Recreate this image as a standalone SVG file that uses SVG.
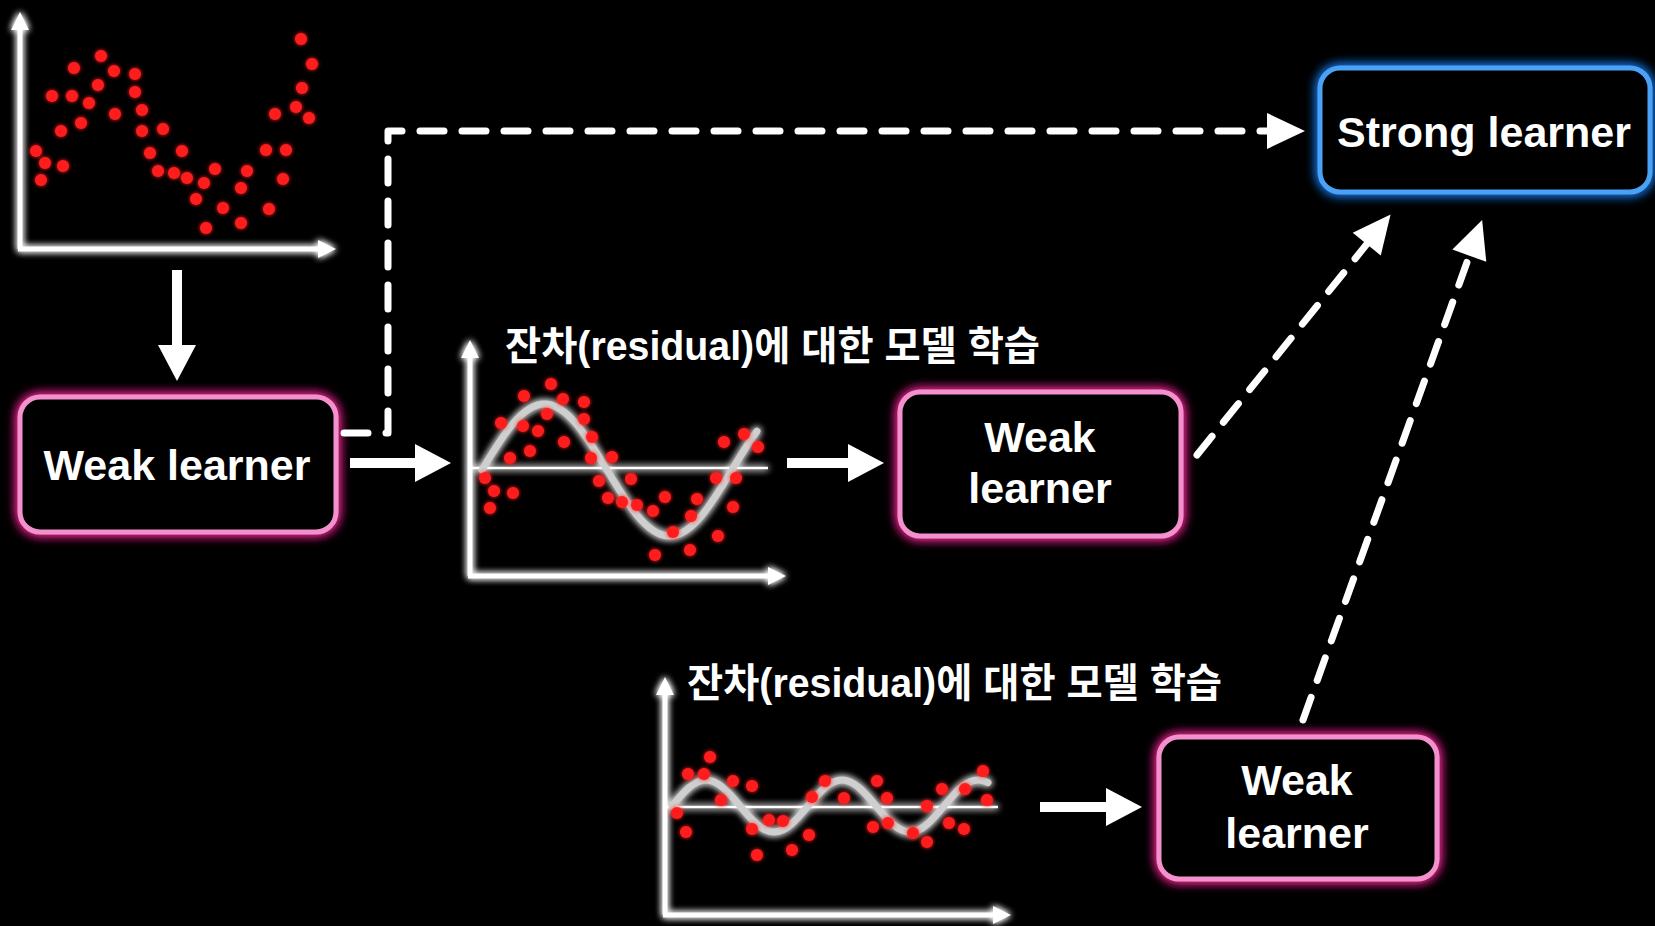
<svg xmlns="http://www.w3.org/2000/svg" width="1655" height="926" viewBox="0 0 1655 926">
<defs>
<style>
.bg{fill:#000}
.box{fill:#000;stroke-width:5}
.pink{stroke:#f590cf}
.blue{stroke:#4aa2f5}
.lbl{font-family:"Liberation Sans",Arial,sans-serif;font-weight:bold;fill:#fff;text-anchor:middle}
.ttl{font-family:"Liberation Sans","Noto Sans CJK KR",sans-serif;font-weight:bold;fill:#fff;font-size:40px}
.axis{fill:none;stroke:#fff;stroke-width:5}
.zero{fill:none;stroke:#fff;stroke-width:2.5}
.curve{fill:none;stroke:#cfcfcf;stroke-width:7;stroke-linecap:round}
.dot{fill:#ff1e1e}
.dash{fill:none;stroke:#fff;stroke-width:7;stroke-dasharray:24 18;stroke-linecap:round;stroke-linejoin:round}
.solid{fill:none;stroke:#fff;stroke-width:10}
</style>
<filter id="glowPink" x="-20%" y="-30%" width="140%" height="160%">
<feGaussianBlur in="SourceAlpha" stdDeviation="6" result="b"/>
<feFlood flood-color="#ff2a9a" flood-opacity="0.9"/>
<feComposite in2="b" operator="in" result="g"/>
<feMerge><feMergeNode in="g"/><feMergeNode in="g"/><feMergeNode in="SourceGraphic"/></feMerge>
</filter>
<filter id="glowBlue" x="-20%" y="-30%" width="140%" height="160%">
<feGaussianBlur in="SourceAlpha" stdDeviation="6" result="b"/>
<feFlood flood-color="#1f7cf0" flood-opacity="0.9"/>
<feComposite in2="b" operator="in" result="g"/>
<feMerge><feMergeNode in="g"/><feMergeNode in="g"/><feMergeNode in="SourceGraphic"/></feMerge>
</filter>
<filter id="glowWhite" x="-10%" y="-10%" width="120%" height="120%">
<feGaussianBlur in="SourceGraphic" stdDeviation="3.5" result="b"/>
<feMerge><feMergeNode in="b"/><feMergeNode in="b"/><feMergeNode in="SourceGraphic"/></feMerge>
</filter>
<filter id="glowDot" x="-10%" y="-10%" width="120%" height="120%">
<feGaussianBlur in="SourceGraphic" stdDeviation="2" result="b"/>
<feMerge><feMergeNode in="b"/><feMergeNode in="SourceGraphic"/></feMerge>
</filter>
<marker id="axHead" markerUnits="userSpaceOnUse" markerWidth="20" markerHeight="20" viewBox="0 -10 20 20" refX="2" refY="0" orient="auto" overflow="visible">
<path d="M0,-9 L18,0 L0,9 z" fill="#fff"/>
</marker>
<marker id="bigHead" markerUnits="userSpaceOnUse" markerWidth="40" markerHeight="44" viewBox="0 -22 40 44" refX="1" refY="0" orient="auto" overflow="visible">
<path d="M0,-19 L36,0 L0,19 z" fill="#fff"/>
</marker>
<marker id="dashHead" markerUnits="userSpaceOnUse" markerWidth="42" markerHeight="44" viewBox="0 -22 42 44" refX="2" refY="0" orient="auto" overflow="visible">
<path d="M0,-18 L38,0 L0,18 z" fill="#fff"/>
</marker>
</defs>
<rect class="bg" x="0" y="0" width="1655" height="926"/>

<g id="chart1">
<g filter="url(#glowWhite)">
<path class="axis" d="M20,249 L20,28" marker-end="url(#axHead)"/>
<path class="axis" d="M18,249 L320,249" marker-end="url(#axHead)"/>
</g>
<g filter="url(#glowDot)">
<circle class="dot" cx="36" cy="151" r="6"/><circle class="dot" cx="45" cy="163" r="6"/><circle class="dot" cx="41" cy="180" r="6"/>
<circle class="dot" cx="63" cy="166" r="6"/><circle class="dot" cx="61" cy="131" r="6"/><circle class="dot" cx="52" cy="96" r="6"/>
<circle class="dot" cx="74" cy="68" r="6"/><circle class="dot" cx="72" cy="96" r="6"/><circle class="dot" cx="81" cy="123" r="6"/>
<circle class="dot" cx="89" cy="103" r="6"/><circle class="dot" cx="98" cy="85" r="6"/><circle class="dot" cx="101" cy="56" r="6"/>
<circle class="dot" cx="114" cy="71" r="6"/><circle class="dot" cx="115" cy="114" r="6"/><circle class="dot" cx="135" cy="74" r="6"/>
<circle class="dot" cx="135" cy="92" r="6"/><circle class="dot" cx="142" cy="110" r="6"/><circle class="dot" cx="142" cy="131" r="6"/>
<circle class="dot" cx="163" cy="129" r="6"/><circle class="dot" cx="150" cy="153" r="6"/><circle class="dot" cx="182" cy="151" r="6"/>
<circle class="dot" cx="158" cy="171" r="6"/><circle class="dot" cx="174" cy="173" r="6"/><circle class="dot" cx="187" cy="178" r="6"/>
<circle class="dot" cx="204" cy="183" r="6"/><circle class="dot" cx="215" cy="169" r="6"/><circle class="dot" cx="196" cy="199" r="6"/>
<circle class="dot" cx="223" cy="208" r="6"/><circle class="dot" cx="206" cy="228" r="6"/><circle class="dot" cx="241" cy="223" r="6"/>
<circle class="dot" cx="241" cy="188" r="6"/><circle class="dot" cx="247" cy="171" r="6"/><circle class="dot" cx="266" cy="150" r="6"/>
<circle class="dot" cx="286" cy="150" r="6"/><circle class="dot" cx="283" cy="179" r="6"/><circle class="dot" cx="269" cy="209" r="6"/>
<circle class="dot" cx="275" cy="114" r="6"/><circle class="dot" cx="296" cy="107" r="6"/><circle class="dot" cx="309" cy="118" r="6"/>
<circle class="dot" cx="302" cy="88" r="6"/><circle class="dot" cx="312" cy="64" r="6"/><circle class="dot" cx="301" cy="39" r="6"/>
</g>
</g>

<g id="weak1">
<rect class="box pink" x="20" y="397" width="316" height="135" rx="20" filter="url(#glowPink)"/>
<text class="lbl" x="177" y="480" font-size="43">Weak learner</text>
</g>

<g id="chart2">
<text class="ttl" x="505" y="360" textLength="535" lengthAdjust="spacingAndGlyphs">잔차(residual)에 대한 모델 학습</text>
<g filter="url(#glowWhite)">
<path class="axis" d="M470,576 L470,356" marker-end="url(#axHead)"/>
<path class="axis" d="M468,576 L770,576" marker-end="url(#axHead)"/>
<path class="zero" d="M470,468 L768,468"/>
<path class="curve" d="M482,470 C502.38,436.19 521.88,404 544.5,404 C567.12,404 586.62,436.19 607,470 C627.38,503.81 646.88,536 669.5,536 C692.12,536 711.62,503.81 732,470 C740.33,456.2 748.67,442.4 757,431.2"/>
</g>
<g filter="url(#glowDot)">
<circle class="dot" cx="485" cy="478" r="6"/><circle class="dot" cx="494" cy="491" r="6"/><circle class="dot" cx="490" cy="508" r="6"/>
<circle class="dot" cx="513" cy="493" r="6"/><circle class="dot" cx="510" cy="458" r="6"/><circle class="dot" cx="501" cy="423" r="6"/>
<circle class="dot" cx="524" cy="396" r="6"/><circle class="dot" cx="523" cy="426" r="6"/><circle class="dot" cx="538" cy="431" r="6"/>
<circle class="dot" cx="530" cy="451" r="6"/><circle class="dot" cx="551" cy="384" r="6"/><circle class="dot" cx="547" cy="414" r="6"/>
<circle class="dot" cx="563" cy="399" r="6"/><circle class="dot" cx="564" cy="442" r="6"/><circle class="dot" cx="584" cy="402" r="6"/>
<circle class="dot" cx="584" cy="419" r="6"/><circle class="dot" cx="592" cy="437" r="6"/><circle class="dot" cx="591" cy="458" r="6"/>
<circle class="dot" cx="612" cy="457" r="6"/><circle class="dot" cx="599" cy="481" r="6"/><circle class="dot" cx="631" cy="479" r="6"/>
<circle class="dot" cx="608" cy="498" r="6"/><circle class="dot" cx="622" cy="502" r="6"/><circle class="dot" cx="637" cy="505" r="6"/>
<circle class="dot" cx="653" cy="511" r="6"/><circle class="dot" cx="665" cy="497" r="6"/><circle class="dot" cx="673" cy="532" r="6"/>
<circle class="dot" cx="655" cy="555" r="6"/><circle class="dot" cx="690" cy="550" r="6"/><circle class="dot" cx="691" cy="516" r="6"/>
<circle class="dot" cx="697" cy="499" r="6"/><circle class="dot" cx="716" cy="478" r="6"/><circle class="dot" cx="736" cy="478" r="6"/>
<circle class="dot" cx="733" cy="507" r="6"/><circle class="dot" cx="718" cy="536" r="6"/><circle class="dot" cx="724" cy="442" r="6"/>
<circle class="dot" cx="744" cy="434" r="6"/><circle class="dot" cx="758" cy="447" r="6"/>
</g>
</g>

<g id="weak2">
<rect class="box pink" x="900" y="392" width="281" height="144" rx="20" filter="url(#glowPink)"/>
<text class="lbl" x="1040" y="452" font-size="43">Weak</text>
<text class="lbl" x="1040" y="503" font-size="43">learner</text>
</g>

<g id="chart3">
<text class="ttl" x="687" y="697" textLength="535" lengthAdjust="spacingAndGlyphs">잔차(residual)에 대한 모델 학습</text>
<g filter="url(#glowWhite)">
<path class="axis" d="M665,915 L665,693" marker-end="url(#axHead)"/>
<path class="axis" d="M663,915 L995,915" marker-end="url(#axHead)"/>
<path class="zero" d="M665,807 L998,807"/>
<path class="curve" d="M672,806 C683.09,792.68 693.7,780 706,780 C718.3,780 728.91,792.68 740,806 C751.09,819.32 761.7,832 774,832 C786.3,832 796.91,819.32 808,806 C819.09,792.68 829.7,780 842,780 C854.3,780 864.91,792.68 876,806 C887.09,819.32 897.7,832 910,832 C922.3,832 932.91,819.32 944,806 C955.09,792.68 965.7,780 978,780 C981.33,780 984.67,780.9 988,782.7"/>
</g>
<g filter="url(#glowDot)">
<circle class="dot" cx="677" cy="813" r="6"/><circle class="dot" cx="686" cy="832" r="6"/><circle class="dot" cx="688" cy="774" r="6"/>
<circle class="dot" cx="704" cy="774" r="6"/><circle class="dot" cx="710" cy="757" r="6"/><circle class="dot" cx="721" cy="800" r="6"/>
<circle class="dot" cx="733" cy="781" r="6"/><circle class="dot" cx="752" cy="786" r="6"/><circle class="dot" cx="752" cy="829" r="6"/>
<circle class="dot" cx="757" cy="855" r="6"/><circle class="dot" cx="769" cy="820" r="6"/><circle class="dot" cx="783" cy="821" r="6"/>
<circle class="dot" cx="792" cy="850" r="6"/><circle class="dot" cx="809" cy="835" r="6"/><circle class="dot" cx="812" cy="797" r="6"/>
<circle class="dot" cx="825" cy="781" r="6"/><circle class="dot" cx="844" cy="798" r="6"/><circle class="dot" cx="877" cy="781" r="6"/>
<circle class="dot" cx="887" cy="798" r="6"/><circle class="dot" cx="873" cy="827" r="6"/><circle class="dot" cx="888" cy="823" r="6"/>
<circle class="dot" cx="913" cy="833" r="6"/><circle class="dot" cx="927" cy="806" r="6"/><circle class="dot" cx="927" cy="842" r="6"/>
<circle class="dot" cx="942" cy="789" r="6"/><circle class="dot" cx="949" cy="823" r="6"/><circle class="dot" cx="964" cy="829" r="6"/>
<circle class="dot" cx="965" cy="789" r="6"/><circle class="dot" cx="983" cy="771" r="6"/><circle class="dot" cx="987" cy="800" r="6"/>
</g>
</g>

<g id="weak3">
<rect class="box pink" x="1159" y="737" width="278" height="142" rx="20" filter="url(#glowPink)"/>
<text class="lbl" x="1297" y="795" font-size="43">Weak</text>
<text class="lbl" x="1297" y="848" font-size="43">learner</text>
</g>

<g id="strong">
<rect class="box blue" x="1320" y="68" width="330" height="124" rx="20" filter="url(#glowBlue)"/>
<text class="lbl" x="1484" y="147" font-size="43">Strong learner</text>
</g>

<g id="connectors">
<path class="solid" d="M177,270 L177,346" marker-end="url(#bigHead)"/>
<path class="solid" d="M350,463 L416,463" marker-end="url(#bigHead)"/>
<path class="solid" d="M787,463 L849,463" marker-end="url(#bigHead)"/>
<path class="solid" d="M1040,807 L1107,807" marker-end="url(#bigHead)"/>
<path class="dash" d="M344,433 L388,433 L388,131 L1269,131" marker-end="url(#dashHead)"/>
<path class="dash" d="M1197,455 L1368,242.6" marker-end="url(#dashHead)"/>
<path class="dash" d="M1303,720 L1470,253.8" marker-end="url(#dashHead)"/>
</g>
</svg>
